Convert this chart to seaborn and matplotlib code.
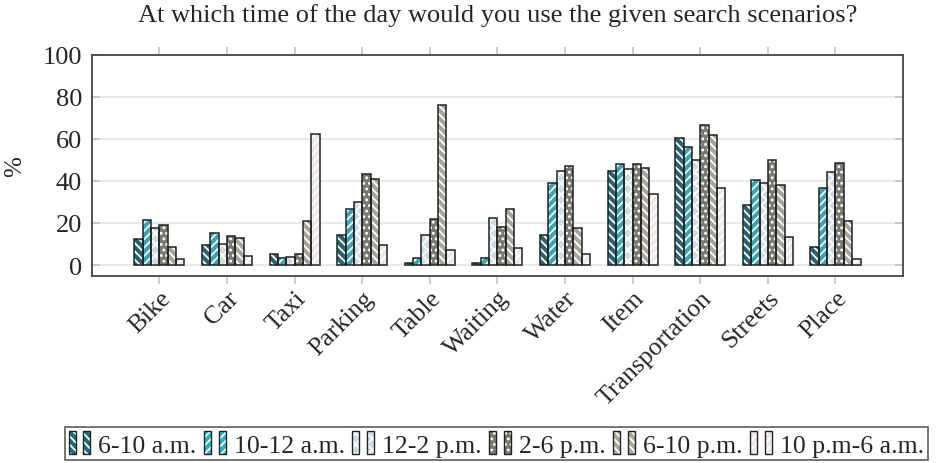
import matplotlib

matplotlib.use("Agg")
import matplotlib.pyplot as plt
import pandas as pd
import seaborn as sns
from matplotlib.legend_handler import HandlerTuple
from matplotlib.patches import Rectangle

# Search scenarios on the x axis.
scenarios = ["Bike", "Car", "Taxi", "Parking", "Table", "Waiting", "Water",
             "Item", "Transportation", "Streets", "Place"]

# Time slots (hue) and the share of answers per scenario, in %.
slots = ["6-10 a.m.", "10-12 a.m.", "12-2 p.m.", "2-6 p.m.", "6-10 p.m.", "10 p.m-6 a.m."]
morning = [12.3, 9.4, 5.1, 14.2, 0.8, 1.1, 14.2, 44.6, 60.5, 28.5, 8.4]
late_morning = [21.5, 15.0, 3.5, 26.4, 3.5, 3.5, 39.0, 47.9, 56.3, 40.3, 36.8]
noon = [17.5, 10.2, 4.0, 30.1, 14.2, 22.3, 44.7, 45.7, 50.1, 39.1, 44.2]
afternoon = [18.8, 13.8, 5.1, 43.3, 21.7, 18.3, 47.0, 47.9, 66.5, 50.1, 48.5]
evening = [8.8, 12.7, 21.0, 40.9, 76.2, 26.4, 17.7, 45.9, 61.8, 38.2, 21.0]
night = [3.0, 4.5, 62.4, 9.4, 7.3, 8.0, 5.1, 33.6, 36.8, 13.2, 2.9]

colors = ["#1c6b7e", "#1fb6cd", "#c9dfe8", "#7a7a71", "#aaa899", "#f1e6ea"]
hatches = ["\\\\\\\\", "////", "xxx", "...", "\\\\\\\\", "////"]
hatch_colors = ["white", "white", "white", "white", "white", "white"]

rows = []
for slot, values in zip(slots, [morning, late_morning, noon, afternoon, evening, night]):
    for scenario, value in zip(scenarios, values):
        rows.append({"scenario": scenario, "slot": slot, "percent": value})
df = pd.DataFrame(rows)

sns.set_theme(style="white")
plt.rcParams["font.family"] = ["Liberation Serif", "DejaVu Serif"]
plt.rcParams["hatch.linewidth"] = 1.3

fig = plt.figure(figsize=(9.38, 4.64), dpi=100)
ax = fig.add_axes([0.0978, 0.404, 0.865, 0.476])

sns.barplot(data=df, x="scenario", y="percent", hue="slot", hue_order=slots,
            palette=colors, width=0.74, linewidth=0, edgecolor="white",
            legend=False, ax=ax, zorder=2)

# Hatch each bar in a light colour, then draw a dark outline on top.
for i, container in enumerate(ax.containers):
    for bar in container:
        bar.set_hatch(hatches[i])
        bar.set_edgecolor(hatch_colors[i])
        bar.set_linewidth(0)
        ax.add_patch(Rectangle(bar.get_xy(), bar.get_width(), bar.get_height(),
                               fill=False, edgecolor="#222222", lw=1.1, zorder=3))

ax.set_xlim(-1, 11)
ax.set_ylim(-5, 100)
ax.set_yticks([0, 20, 40, 60, 80, 100])
ax.yaxis.grid(True, color="#dfe5eb", lw=1.2)
ax.set_axisbelow(True)

ax.tick_params(axis="x", direction="out", top=True, bottom=True, length=6,
               width=1.2, color="#c4c4c4", labelsize=18.5, pad=2)
ax.tick_params(axis="y", direction="in", left=True, right=True, length=6,
               width=1.2, color="#c4c4c4", labelsize=19, pad=7)
plt.setp(ax.get_xticklabels(), rotation=45, ha="right", rotation_mode="anchor")

for spine in ax.spines.values():
    spine.set_color("#444444")
    spine.set_linewidth(1.3)

ax.set_xlabel("")
ax.set_ylabel("%", fontsize=18, labelpad=12)
ax.set_title("At which time of the day would you use the given search scenarios?",
             fontsize=19, pad=24)


# Legend with two swatches per entry.
class SwatchPair(tuple):
    pass


handles = []
for c, h, hc in zip(colors, hatches, hatch_colors):
    swatch = []
    for _ in range(2):
        fill = Rectangle((0, 0), 1, 1, facecolor=c, edgecolor=hc, hatch=h, lw=0)
        outline = Rectangle((0, 0), 1, 1, fill=False, edgecolor="#222222", lw=1)
        swatch.append((fill, outline))
    handles.append(SwatchPair(swatch))

leg = fig.legend(handles, slots, loc="lower center", bbox_to_anchor=(0.529, 0.0),
                 ncol=6, frameon=True, fancybox=False, fontsize=18.5,
                 handlelength=0.85, handleheight=1.0, handletextpad=0.3,
                 columnspacing=0.3, borderpad=0.15, borderaxespad=0.1,
                 handler_map={SwatchPair: HandlerTuple(ndivide=None, pad=0.3),
                              tuple: HandlerTuple(ndivide=1)})
leg.get_frame().set_edgecolor("#444444")
leg.get_frame().set_linewidth(1.3)

fig.savefig("out.png", dpi=100)
